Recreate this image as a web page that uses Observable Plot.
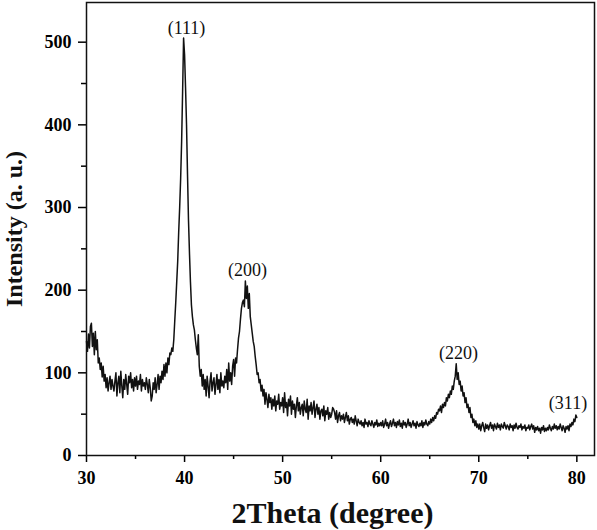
<!DOCTYPE html>
<html><head><meta charset="utf-8">
<script src="https://cdn.jsdelivr.net/npm/d3@7"></script>
<script src="https://cdn.jsdelivr.net/npm/@observablehq/plot@0.6"></script>
<style>body{margin:0;background:#fff}</style>
</head><body><div id="chart"></div>
<script>
// 2Theta sampling grid: 30.0 .. 80.0 in steps of 0.1 degree
const thetaStart = 30;
const thetaStep = 0.1;
// Intensity, one row per degree (10 samples each)
const intensity = [
138,126,147,130,156,160,132,148,122,150,
128,140,112,118,104,112,95,108,90,98,
82,94,78,88,96,80,92,84,78,90,
100,72,88,96,76,102,84,70,92,80,
98,86,74,96,88,100,82,92,78,94,
84,96,80,90,86,98,78,92,84,88,
80,94,86,76,92,82,66,72,88,80,
94,76,86,98,80,96,88,102,92,110,
96,112,100,118,110,124,122,130,126,140,
163,185,210,235,270,300,335,380,440,505,
485,445,400,340,285,245,210,182,168,158,
152,140,130,122,146,108,96,104,84,98,
80,92,72,96,84,70,90,100,78,88,
94,74,86,98,80,92,76,100,84,90,
82,96,88,104,80,112,90,100,86,108,
116,96,118,112,128,142,150,165,178,185,
188,180,211,190,205,178,196,168,158,148,
138,132,120,110,98,100,88,92,78,85,
72,80,62,76,68,58,74,64,70,56,
68,60,72,54,66,62,74,56,64,60,
70,52,76,58,64,48,68,60,72,50,
66,56,62,46,60,70,54,64,50,58,
62,48,66,56,52,68,44,60,54,64,
50,58,66,46,56,62,50,58,44,54,
56,48,60,42,54,50,58,44,52,46,
50,58,56,52,44,54,40,48,52,42,
48,44,50,40,46,52,42,48,38,44,
46,40,44,38,48,42,36,44,40,38,
42,36,40,34,44,38,40,35,42,38,
36,42,38,34,40,37,43,35,39,36,
40,36,42,34,38,44,36,40,33,38,
42,35,39,44,36,40,34,41,37,43,
35,39,33,42,37,40,34,38,44,36,
40,34,38,42,36,39,33,41,37,35,
39,36,42,34,40,37,43,38,36,41,
38,44,40,46,42,48,45,52,50,56,
54,60,52,62,58,64,60,70,66,74,
70,78,74,84,80,90,96,111,92,100,
86,90,78,84,72,76,64,70,58,62,
52,58,46,50,40,44,36,42,34,38,
32,38,30,36,40,34,29,38,33,37,
31,36,40,33,37,30,38,35,32,39,
34,37,31,38,35,33,40,36,32,37,
35,31,38,34,36,30,37,33,39,34,
32,36,34,38,31,35,33,37,30,34,
33,37,31,35,38,32,36,28,34,31,
35,30,33,27,34,31,36,29,33,30,
34,31,37,33,30,35,32,38,33,36,
31,35,32,38,34,30,36,33,28,35,
32,36,30,38,35,40,37,44,41,49,
46
];
const xTicks = [30, 40, 50, 60, 70, 80];
const xMinorTicks = [35, 45, 55, 65, 75];
const yTicks = [0, 100, 200, 300, 400, 500];
const yMinorTicks = [50, 150, 250, 350, 450];
const peakLabels = ["(111)", "(200)", "(220)", "(311)"];
const peakTheta = [40.2, 46.42, 67.93, 79.1];
const peakIntensity = [517, 224, 124, 63.5];
const xTitle = "2Theta (degree)";
const yTitle = "Intensity (a. u.)";

const data = intensity.map((v, i) => ({theta: +(thetaStart + i * thetaStep).toFixed(1), intensity: v}));
const peaks = peakLabels.map((t, i) => ({label: t, theta: peakTheta[i], intensity: peakIntensity[i]}));

const font = "'Liberation Serif', 'Times New Roman', serif";
const chart = Plot.plot({
  width: 597,
  height: 530,
  marginLeft: 86,
  marginRight: 3,
  marginTop: 2,
  marginBottom: 75,
  style: {fontFamily: font, background: "#fff", color: "#000"},
  x: {domain: [30, 81.8]},
  y: {domain: [0, 548]},
  marks: [
    Plot.line(data, {x: "theta", y: "intensity", stroke: "#111", strokeWidth: 1.5}),
    Plot.text(peaks, {x: "theta", y: "intensity", text: "label", fontSize: 18, fontWeight: "normal", fill: "#111"}),
    Plot.axisX({ticks: xTicks, tickSize: 7, tickPadding: 9, strokeWidth: 1.5, fontSize: 18, fontWeight: "bold", label: null}),
    Plot.axisX({ticks: xMinorTicks, tickSize: 4, strokeWidth: 1.5, text: null, label: null}),
    Plot.axisY({ticks: yTicks, tickSize: 8, tickPadding: 7, strokeWidth: 1.5, fontSize: 18, fontWeight: "bold", label: null}),
    Plot.axisY({ticks: yMinorTicks, tickSize: 5, strokeWidth: 1.5, text: null, label: null}),
    Plot.frame({stroke: "#111", strokeWidth: 1.5}),
    Plot.text([xTitle], {frameAnchor: "bottom", dy: 58, dx: -8, fontSize: 30, fontWeight: "bold", lineAnchor: "middle", textAnchor: "middle", fill: "#111"}),
    Plot.text([yTitle], {frameAnchor: "left", rotate: -90, dx: -72, fontSize: 24, fontWeight: "bold", lineAnchor: "middle", textAnchor: "middle", fill: "#111"})
  ]
});
document.getElementById("chart").appendChild(chart);
</script>
</body></html>
